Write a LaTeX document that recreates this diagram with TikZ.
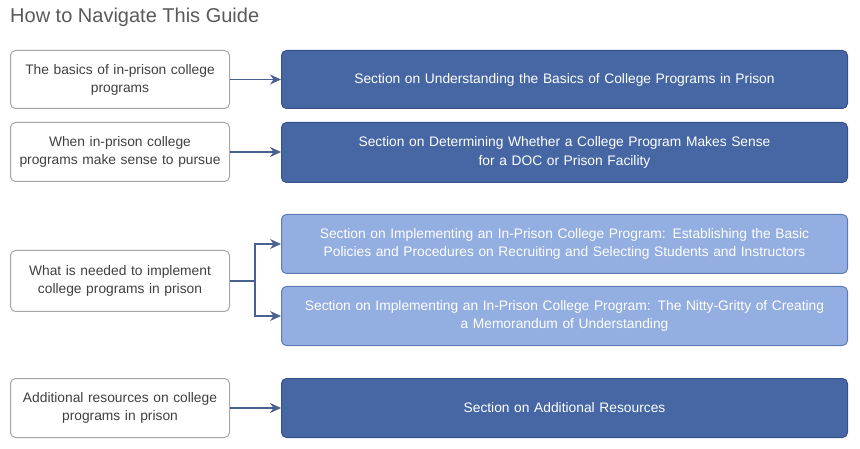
\documentclass[tikz,border=0pt]{standalone}
\usepackage{fontspec}
\setmainfont{Liberation Sans}
\usetikzlibrary{arrows.meta}
\definecolor{dk}{HTML}{4667A4}
\definecolor{dkb}{HTML}{34518A}
\definecolor{lt}{HTML}{93AEE0}
\definecolor{ltb}{HTML}{5D7AB3}
\definecolor{arr}{HTML}{4A6190}
\begin{document}
\begin{tikzpicture}[x=1pt,y=-1pt,
 lbox/.style={draw=black!35,line width=1pt,fill=white,rounded corners=5pt,minimum width=219pt,text width=210pt,align=center,font=\fontsize{13.8}{18}\selectfont,text=black!75,anchor=north west},
 dbox/.style={draw=dkb,line width=1pt,fill=dk,rounded corners=5pt,minimum width=566pt,text width=550pt,align=center,font=\fontsize{13.8}{18.5}\selectfont,text=white,anchor=north west},
 lbx/.style={dbox,fill=lt,draw=ltb},
 ar/.style={draw=arr,line width=1.3pt,-{Stealth[length=11pt,width=10pt]}}]
\useasboundingbox (0,0) rectangle (860,449);
\node[anchor=west,font=\fontsize{20}{22}\selectfont,text=black!65,inner sep=0] (t) at (10,17) {How to Navigate This Guide};
\node[lbox,minimum height=58pt] (l1) at (10,50) {The basics of in-prison college\\programs};
\node[lbox,minimum height=59pt] (l2) at (10,122) {When in-prison college\\programs make sense to pursue};
\node[lbox,minimum height=61pt] (l3) at (10,250) {What is needed to implement\\college programs in prison};
\node[lbox,minimum height=59pt] (l4) at (10,378) {Additional resources on college\\programs in prison};
\node[dbox,minimum height=58pt] (r1) at (281,50) {Section on Understanding the Basics of College Programs in Prison};
\node[dbox,minimum height=60pt] (r2) at (281,122) {Section on Determining Whether a College Program Makes Sense\\for a DOC or Prison Facility};
\node[lbx,minimum height=59pt] (r3) at (281,214) {Section on Implementing an In-Prison College Program: Establishing the Basic\\Policies and Procedures on Recruiting and Selecting Students and Instructors};
\node[lbx,minimum height=59pt] (r4) at (281,286) {Section on Implementing an In-Prison College Program: The Nitty-Gritty of Creating\\a Memorandum of Understanding};
\node[dbox,minimum height=59pt] (r5) at (281,378) {Section on Additional Resources};
\draw[ar] (l1) -- (r1);
\draw[ar] (l2.east) -- (l2.east -| r2.west);
\draw[ar] (l4) -- (r5);
\coordinate (j) at (255,280);
\draw[draw=arr,line width=1.3pt] (l3.east) -- (l3.east -| j);
\draw[ar] (l3.east -| j) |- (r3.west);
\draw[ar] (l3.east -| j) |- (r4.west);
\end{tikzpicture}
\end{document}
